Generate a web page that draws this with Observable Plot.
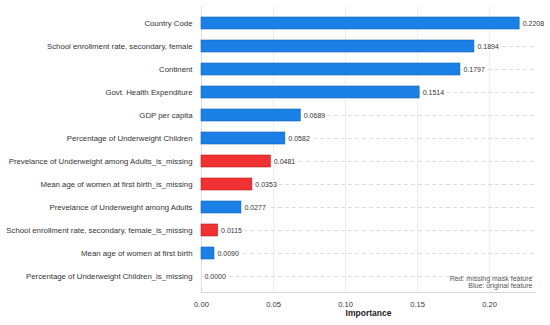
<!DOCTYPE html>
<html>
<head>
<meta charset="utf-8">
<script src="https://cdn.jsdelivr.net/npm/d3@7"></script>
<script src="https://cdn.jsdelivr.net/npm/@observablehq/plot@0.6"></script>
<style>
  html, body { margin: 0; padding: 0; background: white; }
</style>
</head>
<body>
<div id="chart"></div>
<script>
const features = [
  "Country Code",
  "School enrollment rate, secondary, female",
  "Continent",
  "Govt. Health Expenditure",
  "GDP per capita",
  "Percentage of Underweight Children",
  "Prevelance of Underweight among Adults_is_missing",
  "Mean age of women at first birth_is_missing",
  "Prevelance of Underweight among Adults",
  "School enrollment rate, secondary, female_is_missing",
  "Mean age of women at first birth",
  "Percentage of Underweight Children_is_missing"
];
const importance = [0.2208, 0.1894, 0.1797, 0.1514, 0.0689, 0.0582, 0.0481, 0.0353, 0.0277, 0.0115, 0.0090, 0.0000];
const isMissing = [false, false, false, false, false, false, true, true, false, true, false, true];
const xTicks = [0, 0.05, 0.10, 0.15, 0.20];
const legendLines = ["Red: missing mask feature", "Blue: original feature"];
const axisTitle = "Importance";

const data = features.map((f, i) => ({feature: f, importance: importance[i], missing: isMissing[i]}));
const xMax = 0.2318;

const chart = Plot.plot({
  width: 550,
  height: 325,
  marginLeft: 201,
  marginRight: 15,
  marginTop: 6,
  marginBottom: 33,
  style: {fontFamily: "Liberation Sans, Arial, sans-serif", background: "white", color: "#333"},
  x: {domain: [0, xMax]},
  y: {domain: features, paddingInner: 0.5, paddingOuter: 0.25},
  marks: [
    Plot.gridX(xTicks.slice(1), {stroke: "#e8e8e8", strokeOpacity: 1, strokeWidth: 0.8}),
    Plot.ruleY(data, {y: "feature", x1: 0, x2: xMax, stroke: "#d4d4d4", strokeWidth: 0.8, strokeDasharray: "4,3"}),
    Plot.ruleX([0], {stroke: "#d8d8d8", strokeWidth: 0.8}),
    Plot.frame({anchor: "bottom", stroke: "#d8d8d8", strokeWidth: 1.2}),
    Plot.barX(data, {
      y: "feature", x: "importance",
      fill: d => d.missing ? "#f03232" : "#1a80e6",
      stroke: d => d.missing ? "#b42020" : "#1462b4",
      strokeWidth: 0.6
    }),
    Plot.text(data, {
      y: "feature", x: "importance",
      text: d => d.importance.toFixed(4),
      dx: 3, textAnchor: "start", fontSize: 7, fill: "#333",
      stroke: "white", strokeWidth: 4
    }),
    Plot.axisY({tickSize: 0, tickPadding: 9, fontSize: 7.8, label: null, fill: "#333"}),
    Plot.axisX(xTicks, {tickSize: 0, tickPadding: 9, fontSize: 7.6, tickFormat: d3.format(".2f"), label: null, fill: "#333"}),
    Plot.text([axisTitle], {frameAnchor: "bottom", dy: 23, fontSize: 8.5, fontWeight: "bold", fill: "#222"}),
    Plot.text([legendLines.join("\n")], {
      frameAnchor: "bottom-right", textAnchor: "end", lineAnchor: "bottom",
      dx: -3, dy: -5, fontSize: 7, fill: "#555"
    })
  ]
});
document.getElementById("chart").appendChild(chart);
</script>
</body>
</html>
